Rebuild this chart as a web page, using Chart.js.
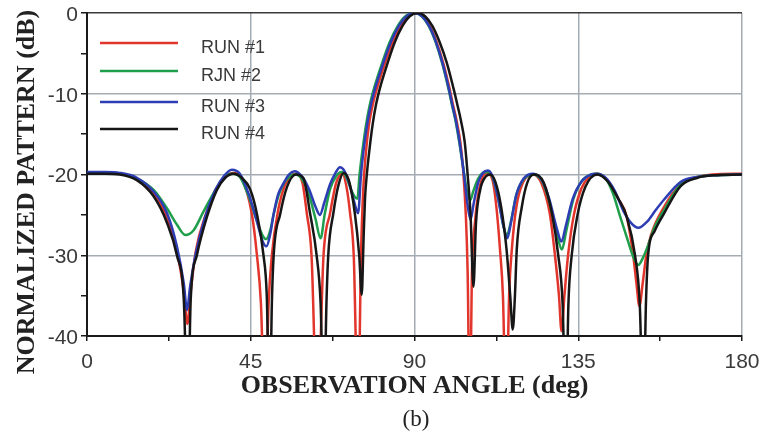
<!DOCTYPE html>
<html>
<head>
<meta charset="utf-8">
<script src="https://cdn.jsdelivr.net/npm/chart.js@4"></script>
<style>
  html, body { margin: 0; padding: 0; background: #fff; }
</style>
</head>
<body>
<canvas id="chart" width="762" height="436"></canvas>
<script>
// series names as printed in the legend (the "RJN" typo is in the original)
const runNames = ['RUN #1', 'RJN #2', 'RUN #3', 'RUN #4'];
const runColors = ['#e2352c', '#1f9e4b', '#2d3db3', '#161616'];

// [angle deg, normalized pattern dB]
const run1 = [[0,-19.8],[5,-19.8],[9,-19.9],[13.7,-20.5],[18.3,-22.3],[22,-25.3],[24.7,-29.5],[26.6,-34.5],[27.6,-38.5],[28.5,-34.5],[29.9,-29.5],[32.6,-25],[35.4,-21.8],[38,-20.3],[40.1,-19.8],[42.5,-20.5],[45.3,-24.9],[46.7,-30],[47.8,-36],[48.9,-50],[49.9,-36],[50.8,-30],[52.5,-24.5],[54.5,-21.2],[57.2,-19.9],[59.2,-21],[60.4,-24.8],[61.7,-30],[63.3,-50],[65,-30],[66.8,-24.8],[68.5,-21],[70.2,-19.9],[71.3,-21.5],[72.3,-24.8],[73.3,-30],[74.5,-50],[75.3,-30],[75.9,-22],[76.6,-17.5],[77.5,-13.8],[78.5,-11.4],[79.7,-9.3],[81.9,-6.2],[84,-3.6],[86.2,-1.6],[88.2,-0.4],[90.2,0],[92.3,-0.4],[94.2,-1.6],[96.1,-3.6],[97.9,-6.2],[99.6,-9.3],[100.5,-11.2],[101.6,-13.4],[102.6,-16],[103.3,-19],[104.1,-25],[104.6,-32],[105.2,-50],[105.8,-32],[106.6,-26],[107.7,-22],[109.8,-19.8],[111.5,-20.8],[112.5,-24],[113.5,-29.3],[114.3,-35],[115.2,-50],[116,-35],[116.8,-29],[118,-24],[119.8,-21],[122.6,-20],[125,-21.2],[127.2,-24.9],[128.6,-30],[129.7,-35],[130.4,-39.4],[131.2,-35],[132.2,-30],[133.8,-25],[135.8,-21.8],[138,-20.3],[140.1,-19.9],[143,-20.7],[146,-23],[148.3,-25.2],[150.1,-30],[151,-33.5],[151.8,-36.3],[152.7,-33.5],[153.7,-30],[155,-27.5],[158.6,-24],[163.2,-21.2],[167.8,-20.3],[172,-20],[180,-19.9]];

const run2 = [[0,-19.8],[5,-19.8],[9,-19.9],[13.7,-20.5],[18.3,-21.9],[22,-24.2],[24.7,-26.2],[27,-27.5],[29.3,-26.9],[32,-24.6],[34.8,-22.3],[37.5,-20.5],[39.8,-19.9],[42,-20.3],[44.5,-22.8],[46.5,-25.5],[48.2,-27.5],[49.2,-28],[50.3,-27],[51.3,-24.9],[52.7,-22.5],[54.2,-21],[55.8,-20.2],[57.2,-20],[59,-20.5],[61,-22.5],[62.8,-25.5],[64.2,-27.9],[65.3,-25],[66.8,-21.8],[68.5,-20.2],[69.9,-19.7],[71.2,-20.3],[72.5,-21.8],[73.6,-22.8],[74.3,-23],[74.9,-20],[75.7,-17],[76.7,-13.8],[77.7,-11.4],[78.9,-9.3],[81.1,-6.2],[83.2,-3.6],[85.4,-1.6],[87.5,-0.4],[90,0],[92,-0.4],[93.9,-1.6],[95.8,-3.6],[97.6,-6.2],[99.3,-9.3],[100.2,-11.2],[101.3,-13.4],[102.3,-16],[103.5,-19.5],[104.4,-22],[105.3,-23.2],[106.2,-22],[107.5,-20.5],[108.8,-19.8],[110.2,-19.7],[111.5,-20.4],[113,-23],[114.5,-26.5],[115.4,-27.5],[116.4,-26],[118,-22.5],[120,-20.6],[122.6,-20],[125,-20.8],[127,-23.3],[129,-27],[130.5,-29.3],[131.7,-27],[133.7,-23],[136,-20.8],[138.5,-20],[140.1,-19.9],[142.5,-20.5],[144.5,-22.3],[146.5,-25.2],[148.5,-28],[150.2,-30.3],[151.5,-31.2],[152.8,-30.3],[154,-29],[156,-26.5],[158.6,-24.4],[163.2,-21.2],[167.8,-20.3],[172,-20.1],[180,-20]];

const run3 = [[0,-19.7],[5,-19.7],[9,-19.8],[13.7,-20.4],[18.3,-22.1],[22,-24.8],[24.7,-28.9],[26.6,-33.5],[27.5,-36.8],[28.3,-34],[29.8,-30],[32.5,-25.2],[35.3,-21.9],[37.8,-20.1],[39.8,-19.4],[42,-19.9],[44.5,-22.5],[46.5,-25.5],[48.2,-28.2],[49.3,-28.9],[50.3,-27.5],[51.3,-24.9],[52.5,-22.5],[54,-21.1],[55.5,-20],[57,-19.6],[59,-20.2],[61,-21.8],[62.8,-24],[64,-25],[65.2,-23.5],[66.8,-21.2],[68.3,-19.8],[69.5,-19.1],[70.8,-19.6],[72,-21],[73.5,-23.5],[74.5,-24.8],[75.3,-20],[76,-17],[77,-13.8],[78,-11.4],[79.2,-9.3],[81.4,-6.2],[83.5,-3.6],[85.7,-1.6],[87.8,-0.4],[90,0],[92.1,-0.4],[94,-1.6],[95.9,-3.6],[97.7,-6.2],[99.4,-9.3],[100.3,-11.2],[101.4,-13.4],[102.4,-16],[103.6,-20],[104.5,-23.5],[105.4,-25.6],[106.3,-23.5],[107.5,-21],[108.8,-19.8],[110.2,-19.5],[111.5,-20.3],[113,-23],[114.5,-26.5],[115.5,-27.9],[116.5,-26],[118,-22.5],[120,-20.5],[122.6,-19.9],[125,-20.7],[127,-23],[129,-26.5],[130.4,-28.3],[131.5,-26.5],[133.5,-23],[136,-20.8],[138.5,-20],[140.1,-19.9],[142.5,-20.4],[145,-22],[147.4,-24.5],[149.5,-26],[151.5,-26.6],[154,-25.8],[156.3,-24.4],[158.6,-23.1],[163.2,-20.9],[167.8,-20.3],[172,-20.1],[180,-20]];

const run4 = [[0,-19.9],[5,-19.9],[9,-20],[13.7,-20.7],[18.3,-22.7],[22,-26],[24.7,-30],[26.6,-35.5],[27.7,-50],[28.5,-35.5],[30.2,-30],[33,-25.2],[35.7,-21.9],[38,-20.4],[40.3,-19.9],[42.5,-20.4],[44.8,-21.8],[46.7,-24.9],[48.5,-30],[49.4,-35],[50.2,-50],[50.8,-36],[51.3,-30],[53.1,-24.9],[55,-21.5],[57.4,-20],[59.5,-20.5],[61.3,-24.8],[63.1,-30],[64.2,-36],[65.1,-50],[65.8,-36],[66.3,-30],[67.7,-24.8],[69,-21.5],[70.5,-19.8],[72,-20.8],[73.6,-24.8],[74.8,-30],[75.5,-34.9],[76,-28],[76.4,-23],[76.9,-20],[77.6,-17],[78.5,-13.8],[79.4,-11.4],[80.5,-9.3],[82.6,-6.2],[84.6,-3.6],[86.7,-1.6],[88.7,-0.4],[90.8,0],[92.9,-0.4],[94.9,-1.6],[96.9,-3.6],[98.9,-6.2],[100.7,-9.3],[101.7,-11.2],[102.8,-13.4],[103.8,-16],[104.6,-20],[105.4,-25],[106.2,-33.9],[106.9,-26],[108,-22],[109.5,-20.3],[110.8,-20],[112.3,-21],[113.8,-24],[115.3,-29.3],[116.3,-35],[117,-39.2],[117.6,-35],[118.1,-29.3],[119.5,-24],[121,-21],[122.8,-20],[125.5,-21],[127.8,-24.9],[129.5,-30],[130.7,-36],[131.6,-50],[132.3,-36],[133.2,-30],[134.8,-25],[137,-21.5],[140.2,-20],[143,-20.8],[146,-23],[148.3,-25.2],[150.6,-30],[151.9,-36],[152.9,-50],[153.6,-36],[154.2,-30],[156,-27],[158.6,-24.8],[163.2,-21.4],[167.8,-20.4],[172,-20.1],[180,-20]];

const runs = [run1, run2, run3, run4];
const drawOrder = [3, 2, 1, 0]; // black on top

// axis ticks
const angleTicks = [0, 22.5, 45, 67.5, 90, 112.5, 135, 157.5, 180];
const angleLabels = ['0', '45', '90', '135', '180'];
const dbLabels = ['0', '-10', '-20', '-30', '-40'];

const GRID = '#a3abb3';
const AXIS = '#1a1a1a';
const TEXT = '#3a3a3a';
const SANS = '"Liberation Sans", Arial, sans-serif';
const SERIF = '"Liberation Serif", "Times New Roman", serif';

// legend inside the plot, y title and the "(b)" caption
const decor = {
  id: 'decor',
  afterDraw(chart) {
    const ctx = chart.ctx;
    ctx.save();
    const lineY = [43, 71, 102, 129];
    chart.data.datasets.forEach((ds, i) => {
      ctx.strokeStyle = ds.borderColor;
      ctx.lineWidth = 2.5;
      ctx.beginPath();
      ctx.moveTo(100, lineY[i]);
      ctx.lineTo(178, lineY[i]);
      ctx.stroke();
      ctx.fillStyle = TEXT;
      ctx.font = '18px ' + SANS;
      ctx.textBaseline = 'middle';
      ctx.textAlign = 'left';
      ctx.fillText(ds.label, 201, lineY[i] + 5);
    });

    ctx.fillStyle = '#222';
    ctx.font = 'bold 26px ' + SERIF;
    ctx.translate(34, 192);
    ctx.rotate(-Math.PI / 2);
    ctx.textAlign = 'center';
    ctx.textBaseline = 'alphabetic';
    ctx.fillText('NORMALIZED PATTERN (dB)', 0, 0);
    ctx.restore();

    ctx.save();
    ctx.fillStyle = '#222';
    ctx.font = '23px ' + SERIF;
    ctx.textAlign = 'center';
    ctx.textBaseline = 'middle';
    ctx.fillText('(b)', 416, 420);
    ctx.restore();
  }
};

new Chart(document.getElementById('chart'), {
  type: 'line',
  data: {
    datasets: runs.map((run, i) => ({
      label: runNames[i],
      data: run.map(p => ({ x: p[0], y: p[1] })),
      borderColor: runColors[i],
      borderWidth: 2.5,
      pointRadius: 0,
      cubicInterpolationMode: 'monotone',
      fill: false,
      order: drawOrder[i]
    }))
  },
  options: {
    responsive: false,
    animation: false,
    layout: { padding: { top: 13, right: 20, left: 0, bottom: 0 } },
    plugins: {
      legend: { display: false },
      tooltip: { enabled: false }
    },
    scales: {
      x: {
        type: 'linear',
        min: 0,
        max: 180,
        afterBuildTicks: s => { s.ticks = angleTicks.map(v => ({ value: v })); },
        afterFit: s => { s.height = 100; s.paddingLeft = 0; s.paddingRight = 0; },
        ticks: {
          autoSkip: false,
          maxRotation: 0,
          padding: 9,
          color: TEXT,
          font: { family: SANS, size: 21 },
          callback: v => (v % 45 === 0 ? angleLabels[v / 45] : '')
        },
        grid: {
          lineWidth: 1.5,
          tickLength: 5,
          tickColor: AXIS,
          color: c => (c.tick && c.tick.value % 45 === 0 && c.tick.value > 0 ? GRID : 'rgba(0,0,0,0)')
        },
        border: { color: AXIS, width: 2 },
        title: {
          display: true,
          text: 'OBSERVATION ANGLE (deg)',
          color: '#222',
          font: { family: SERIF, size: 26, weight: 'bold' },
          padding: { top: 0, bottom: 34 }
        }
      },
      y: {
        min: -40,
        max: 0,
        afterFit: s => { s.width = 87; s.paddingTop = 0; s.paddingBottom = 0; },
        ticks: {
          stepSize: 5,
          padding: 3,
          labelOffset: 2,
          color: TEXT,
          font: { family: SANS, size: 21 },
          callback: v => (v % 10 === 0 ? dbLabels[-v / 10] : '')
        },
        grid: {
          lineWidth: 1.5,
          tickLength: 6,
          tickColor: AXIS,
          color: c => {
            const v = c.tick ? c.tick.value : null;
            if (v === 0) return '#3a3a3a';
            if (v % 10 === 0 && v > -40) return GRID;
            return 'rgba(0,0,0,0)';
          }
        },
        border: { color: AXIS, width: 2 }
      }
    }
  },
  plugins: [decor]
});
</script>
</body>
</html>
